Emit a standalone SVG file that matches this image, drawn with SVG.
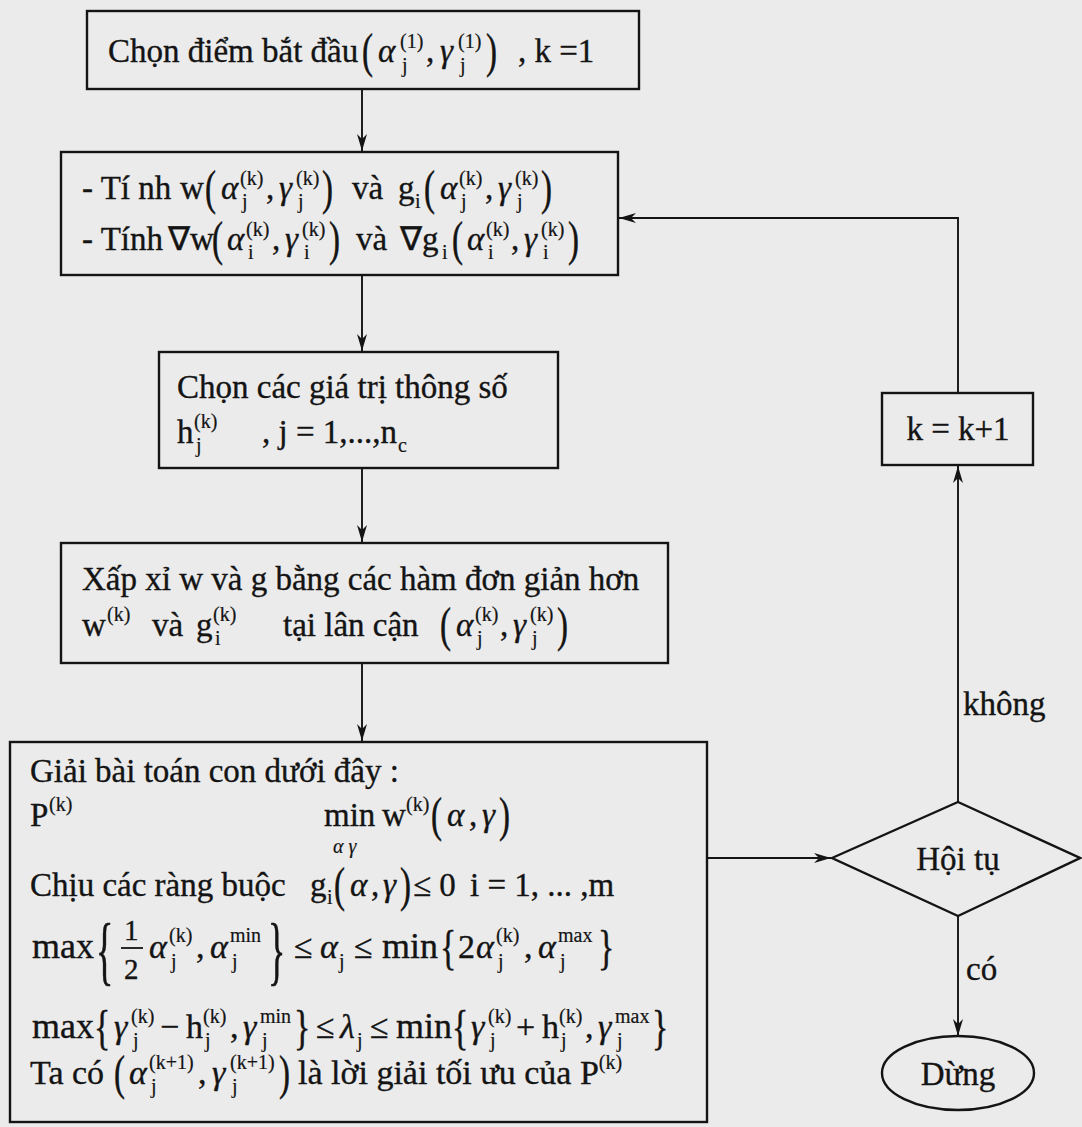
<svg xmlns="http://www.w3.org/2000/svg" width="1082" height="1127" viewBox="0 0 1082 1127">
<style>
.t{font-family:"Liberation Serif","Times New Roman",serif;font-size:33px;fill:#141414;stroke:#141414;stroke-width:0.35}
.m{font-style:italic}
.s{font-size:20px;stroke-width:0.2}
.b5{font-size:34px}
.box{fill:none;stroke:#141414;stroke-width:2.4}
.ln{fill:none;stroke:#141414;stroke-width:1.9}
.c{text-anchor:middle}
</style>
<defs>
<marker id="arr" markerUnits="userSpaceOnUse" markerWidth="20" markerHeight="12" viewBox="-18 -6 20 12" refX="0" refY="0" orient="auto">
<path d="M0,0 L-17,-5 L-12,0 L-17,5 Z" fill="#141414"/>
</marker>
</defs>
<rect x="0" y="0" width="1082" height="1127" fill="#ebebeb"/>

<g id="connectors">
<line class="ln" x1="362" y1="89" x2="362" y2="151" marker-end="url(#arr)"/>
<line class="ln" x1="362" y1="275" x2="362" y2="351" marker-end="url(#arr)"/>
<line class="ln" x1="362" y1="468" x2="362" y2="542" marker-end="url(#arr)"/>
<line class="ln" x1="362" y1="663" x2="362" y2="741" marker-end="url(#arr)"/>
<line class="ln" x1="707" y1="858" x2="831" y2="858" marker-end="url(#arr)"/>
<line class="ln" x1="958" y1="802" x2="958" y2="466" marker-end="url(#arr)"/>
<polyline class="ln" points="958,393 958,218 619,218" marker-end="url(#arr)"/>
<line class="ln" x1="958" y1="916" x2="958" y2="1036" marker-end="url(#arr)"/>
<text class="t" x="963" y="715">không</text>
<text class="t" x="966" y="980">có</text>
</g>

<g id="n1">
<rect class="box" x="87" y="11" width="552" height="78"/>
<text class="t" x="108" y="62">Chọn điểm bắt đầu</text>
<text class="t" transform="translate(362,67) scale(1,1.5)">(</text>
<text class="t m" x="378" y="62">α</text>
<text class="t s" x="400" y="48">(1)</text>
<text class="t s" x="402" y="72">j</text>
<text class="t" x="426" y="62">,</text>
<text class="t m" x="440" y="62">γ</text>
<text class="t s" x="458" y="48">(1)</text>
<text class="t s" x="460" y="72">j</text>
<text class="t" transform="translate(486,67) scale(1,1.5)">)</text>
<text class="t" x="518" y="62">, k =1</text>
</g>

<g id="n2">
<rect class="box" x="61" y="152" width="557" height="123"/>
<text class="t" x="82" y="199">- Tí nh</text>
<text class="t" x="180" y="199">w</text>
<text class="t" transform="translate(205,204) scale(1,1.5)">(</text>
<text class="t m" x="221" y="199">α</text>
<text class="t s" x="240" y="185">(k)</text>
<text class="t s" x="242" y="208">j</text>
<text class="t" x="266" y="199">,</text>
<text class="t m" x="279" y="199">γ</text>
<text class="t s" x="296" y="185">(k)</text>
<text class="t s" x="298" y="208">j</text>
<text class="t" transform="translate(322,204) scale(1,1.5)">)</text>
<text class="t" x="352" y="199">và</text>
<text class="t" x="398" y="199">g</text>
<text class="t s" x="415" y="208">i</text>
<text class="t" transform="translate(424,204) scale(1,1.5)">(</text>
<text class="t m" x="440" y="199">α</text>
<text class="t s" x="459" y="185">(k)</text>
<text class="t s" x="461" y="208">j</text>
<text class="t" x="485" y="199">,</text>
<text class="t m" x="498" y="199">γ</text>
<text class="t s" x="515" y="185">(k)</text>
<text class="t s" x="517" y="208">j</text>
<text class="t" transform="translate(541,204) scale(1,1.5)">)</text>

<text class="t" x="82" y="250">- Tính</text>
<text class="t" x="168" y="250">∇w</text>
<text class="t" transform="translate(212,255) scale(1,1.5)">(</text>
<text class="t m" x="227" y="250">α</text>
<text class="t s" x="246" y="236">(k)</text>
<text class="t s" x="248" y="259">i</text>
<text class="t" x="272" y="250">,</text>
<text class="t m" x="285" y="250">γ</text>
<text class="t s" x="302" y="236">(k)</text>
<text class="t s" x="304" y="259">i</text>
<text class="t" transform="translate(329,255) scale(1,1.5)">)</text>
<text class="t" x="356" y="250">và</text>
<text class="t" x="400" y="250">∇g</text>
<text class="t s" x="442" y="259">i</text>
<text class="t" transform="translate(452,255) scale(1,1.5)">(</text>
<text class="t m" x="467" y="250">α</text>
<text class="t s" x="486" y="236">(k)</text>
<text class="t s" x="488" y="259">i</text>
<text class="t" x="511" y="250">,</text>
<text class="t m" x="524" y="250">γ</text>
<text class="t s" x="541" y="236">(k)</text>
<text class="t s" x="543" y="259">i</text>
<text class="t" transform="translate(568,255) scale(1,1.5)">)</text>
</g>

<g id="n3">
<rect class="box" x="159" y="352" width="399" height="116"/>
<text class="t" x="177" y="398">Chọn các giá trị thông số</text>
<text class="t" x="177" y="443">h</text>
<text class="t s" x="194" y="428">(k)</text>
<text class="t s" x="196" y="452">j</text>
<text class="t" x="262" y="443">, j = 1,...,n</text>
<text class="t s" x="398" y="452">c</text>
</g>

<g id="n4">
<rect class="box" x="61" y="543" width="607" height="120"/>
<text class="t" x="82" y="590">Xấp xỉ w và g bằng các hàm đơn giản hơn</text>
<text class="t" x="82" y="636">w</text>
<text class="t s" x="107" y="621">(k)</text>
<text class="t" x="152" y="636">và</text>
<text class="t" x="196" y="636">g</text>
<text class="t s" x="213" y="621">(k)</text>
<text class="t s" x="215" y="645">i</text>
<text class="t" x="283" y="636">tại lân cận</text>
<text class="t" transform="translate(440,641) scale(1,1.5)">(</text>
<text class="t m" x="456" y="636">α</text>
<text class="t s" x="475" y="621">(k)</text>
<text class="t s" x="477" y="645">j</text>
<text class="t" x="500" y="636">,</text>
<text class="t m" x="513" y="636">γ</text>
<text class="t s" x="530" y="621">(k)</text>
<text class="t s" x="532" y="645">j</text>
<text class="t" transform="translate(557,641) scale(1,1.5)">)</text>
</g>

<g id="n5">
<rect class="box" x="10" y="742" width="697" height="380"/>
<text class="t" x="30" y="782">Giải bài toán con dưới đây :</text>
<text class="t" x="30" y="826">P</text>
<text class="t s" x="49" y="811">(k)</text>
<text class="t" x="324" y="826">min</text>
<text class="t" x="382" y="826">w</text>
<text class="t s" x="406" y="811">(k)</text>
<text class="t" transform="translate(431,831) scale(1,1.5)">(</text>
<text class="t m" x="447" y="826">α</text>
<text class="t" x="469" y="826">,</text>
<text class="t m" x="482" y="826">γ</text>
<text class="t" transform="translate(499,831) scale(1,1.5)">)</text>
<text class="t s m" x="333" y="853">α γ</text>

<text class="t" x="30" y="896">Chịu các ràng buộc</text>
<text class="t" x="310" y="896">g</text>
<text class="t s" x="327" y="904">i</text>
<text class="t" transform="translate(334,901) scale(1,1.5)">(</text>
<text class="t m" x="350" y="896">α</text>
<text class="t" x="371" y="896">,</text>
<text class="t m" x="383" y="896">γ</text>
<text class="t" transform="translate(400,901) scale(1,1.5)">)</text>
<text class="t" x="413" y="896">≤ 0</text>
<text class="t" x="470" y="896">i = 1, ... ,m</text>

<text class="t" x="32" y="958" style="font-size:36px">max</text>
<text class="t" transform="translate(96,976) scale(1,2.1)" style="font-size:36px">{</text>
<text class="t" x="124" y="940" style="font-size:29px">1</text>
<line x1="121" y1="948" x2="143" y2="948" stroke="#141414" stroke-width="1.8"/>
<text class="t" x="124" y="979" style="font-size:29px">2</text>
<text class="t b5 m" x="149" y="958">α</text>
<text class="t s" x="169" y="942">(k)</text>
<text class="t s" x="171" y="968">j</text>
<text class="t b5" x="196" y="958">,</text>
<text class="t b5 m" x="210" y="958">α</text>
<text class="t s" x="230" y="942">min</text>
<text class="t s" x="232" y="968">j</text>
<text class="t" transform="translate(268,976) scale(1,2.1)" style="font-size:36px">}</text>
<text class="t b5" x="294" y="958">≤</text>
<text class="t b5 m" x="320" y="958">α</text>
<text class="t s" x="339" y="968">j</text>
<text class="t b5" x="354" y="958">≤</text>
<text class="t" x="382" y="958" style="font-size:36px">min</text>
<text class="t" transform="translate(440,964) scale(1,1.45)" style="font-size:34px">{</text>
<text class="t b5" x="458" y="958">2</text>
<text class="t b5 m" x="476" y="958">α</text>
<text class="t s" x="496" y="942">(k)</text>
<text class="t s" x="498" y="968">j</text>
<text class="t b5" x="524" y="958">,</text>
<text class="t b5 m" x="538" y="958">α</text>
<text class="t s" x="558" y="942">max</text>
<text class="t s" x="560" y="968">j</text>
<text class="t" transform="translate(598,964) scale(1,1.45)" style="font-size:34px">}</text>

<text class="t" x="32" y="1038" style="font-size:36px">max</text>
<text class="t" transform="translate(94,1044) scale(1,1.45)" style="font-size:34px">{</text>
<text class="t b5 m" x="114" y="1038">γ</text>
<text class="t s" x="131" y="1023">(k)</text>
<text class="t s" x="133" y="1047">j</text>
<text class="t b5" x="160" y="1038">−</text>
<text class="t b5" x="186" y="1038">h</text>
<text class="t s" x="203" y="1023">(k)</text>
<text class="t s" x="205" y="1047">j</text>
<text class="t b5" x="230" y="1038">,</text>
<text class="t b5 m" x="243" y="1038">γ</text>
<text class="t s" x="260" y="1023">min</text>
<text class="t s" x="262" y="1047">j</text>
<text class="t" transform="translate(294,1044) scale(1,1.45)" style="font-size:34px">}</text>
<text class="t b5" x="316" y="1038">≤</text>
<text class="t b5 m" x="340" y="1038">λ</text>
<text class="t s" x="357" y="1047">j</text>
<text class="t b5" x="370" y="1038">≤</text>
<text class="t" x="396" y="1038" style="font-size:36px">min</text>
<text class="t" transform="translate(452,1044) scale(1,1.45)" style="font-size:34px">{</text>
<text class="t b5 m" x="471" y="1038">γ</text>
<text class="t s" x="488" y="1023">(k)</text>
<text class="t s" x="490" y="1047">j</text>
<text class="t b5" x="516" y="1038">+</text>
<text class="t b5" x="542" y="1038">h</text>
<text class="t s" x="559" y="1023">(k)</text>
<text class="t s" x="561" y="1047">j</text>
<text class="t b5" x="585" y="1038">,</text>
<text class="t b5 m" x="598" y="1038">γ</text>
<text class="t s" x="615" y="1023">max</text>
<text class="t s" x="617" y="1047">j</text>
<text class="t" transform="translate(652,1044) scale(1,1.45)" style="font-size:34px">}</text>

<text class="t b5" x="30" y="1084">Ta có</text>
<text class="t" transform="translate(114,1089) scale(1,1.5)">(</text>
<text class="t b5 m" x="129" y="1084">α</text>
<text class="t s" x="149" y="1069">(k+1)</text>
<text class="t s" x="151" y="1093">j</text>
<text class="t b5" x="198" y="1084">,</text>
<text class="t b5 m" x="212" y="1084">γ</text>
<text class="t s" x="230" y="1069">(k+1)</text>
<text class="t s" x="232" y="1093">j</text>
<text class="t" transform="translate(279,1089) scale(1,1.5)">)</text>
<text class="t b5" x="298" y="1084">là lời giải tối ưu của P<tspan dy="-15" style="font-size:20px;stroke-width:0.2">(k)</tspan></text>
</g>

<g id="n6">
<rect class="box" x="882" y="393" width="151" height="72"/>
<text class="t c" x="958" y="440">k = k+1</text>
</g>

<g id="n7">
<polygon class="box" points="832,858 958,802 1080,858 958,916"/>
<text class="t c" x="958" y="870">Hội tụ</text>
</g>

<g id="n8">
<ellipse class="box" cx="958" cy="1073" rx="76" ry="37"/>
<text class="t c" x="958" y="1085">Dừng</text>
</g>
</svg>
